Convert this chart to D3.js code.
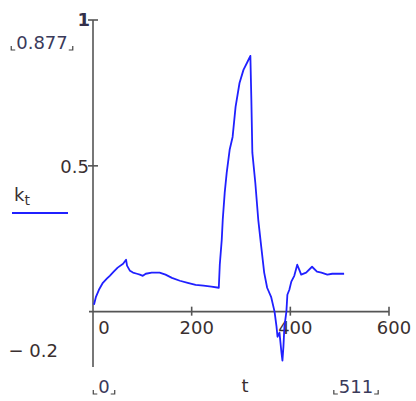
<!DOCTYPE html>
<html>
<head>
<meta charset="utf-8">
<script src="https://cdn.jsdelivr.net/npm/d3@7/dist/d3.min.js"></script>
<style>
  html, body { margin: 0; padding: 0; background: #fff; }
  svg text { font-family: "DejaVu Sans", Verdana, sans-serif; font-size: 18px; fill: #3a3030; }
</style>
</head>
<body>
<svg id="chart" width="416" height="401"></svg>
<script>
// values
var tValues = [2, 6, 12, 20, 28, 34, 42, 50, 61, 67, 69, 75, 81, 89, 95, 101, 107, 119, 135, 147,
    160, 176, 192, 208, 224, 240, 255, 257, 261, 263, 267, 271, 277, 283, 289, 297, 305, 313, 319,
    321, 323, 329, 335, 341, 347, 353, 361, 368, 372, 374, 378, 382, 384, 386, 388, 392, 394, 398,
    402, 408, 414, 418, 422, 432, 444, 454, 463, 475, 485, 509];
var kValues = [0.024, 0.051, 0.075, 0.099, 0.113, 0.123, 0.137, 0.151, 0.164, 0.178, 0.158, 0.140,
    0.134, 0.130, 0.127, 0.123, 0.130, 0.134, 0.134, 0.127, 0.116, 0.106, 0.099, 0.092, 0.089,
    0.086, 0.082, 0.161, 0.247, 0.315, 0.408, 0.476, 0.555, 0.599, 0.702, 0.784, 0.829, 0.856,
    0.877, 0.726, 0.545, 0.442, 0.315, 0.223, 0.134, 0.082, 0.051, 0.0, -0.051, -0.086, -0.072,
    -0.140, -0.168, -0.120, -0.051, 0.0, 0.058, 0.075, 0.103, 0.123, 0.161, 0.144, 0.127, 0.134,
    0.154, 0.137, 0.134, 0.127, 0.130, 0.130];
var xTicks = [0, 200, 400, 600];
var yTickMarks = [1, 0.5];
var yLimits = ["1", "0.5", "\u2212 0.2"];
var rangeLabels = {yMax: "0.877", xMin: "0", xMax: "511"};

var svg = d3.select("svg#chart");

var x = d3.scaleLinear()
    .domain([0, 600])
    .range([93, 389]);

var y = d3.scaleLinear()
    .domain([-0.2, 1])
    .range([370, 20]);

var axisColor = "#555";

// axes
svg.append("line")
    .attr("x1", x(0) - 4).attr("x2", x(600))
    .attr("y1", y(0)).attr("y2", y(0))
    .style("stroke", axisColor).style("stroke-width", 1.6);

svg.append("line")
    .attr("x1", x(0)).attr("x2", x(0))
    .attr("y1", y(1)).attr("y2", y(-0.2) - 3)
    .style("stroke", axisColor).style("stroke-width", 1.6);

svg.selectAll("line.xtick")
    .data(xTicks.slice(1))
    .enter()
    .append("line")
        .attr("class", "xtick")
        .attr("x1", function(d) { return x(d); })
        .attr("x2", function(d) { return x(d); })
        .attr("y1", y(0) - 5)
        .attr("y2", y(0) + 4)
        .style("stroke", axisColor).style("stroke-width", 1.6);

svg.selectAll("line.ytick")
    .data(yTickMarks)
    .enter()
    .append("line")
        .attr("class", "ytick")
        .attr("x1", x(0) - 5)
        .attr("x2", x(0) + 5)
        .attr("y1", function(d) { return y(d); })
        .attr("y2", function(d) { return y(d); })
        .style("stroke", axisColor).style("stroke-width", 1.6);

svg.selectAll("text.xlabel")
    .data(xTicks)
    .enter()
    .append("text")
        .attr("class", "xlabel")
        .attr("x", function(d) { return x(d) + (d === 0 ? 11 : 5); })
        .attr("y", y(0) + 22)
        .attr("text-anchor", "middle")
        .text(function(d) { return d; });

// y limit labels
svg.append("text")
    .attr("x", x(0) - 3).attr("y", y(1) + 6)
    .attr("text-anchor", "end")
    .style("font-weight", "bold").style("fill", "#33304a")
    .text(yLimits[0]);

svg.append("text")
    .attr("x", x(0) - 4).attr("y", y(0.5) + 7)
    .attr("text-anchor", "end")
    .text(yLimits[1]);

svg.append("text")
    .attr("x", 58).attr("y", y(-0.2) - 13)
    .attr("text-anchor", "end")
    .text(yLimits[2]);

// curve
var line = d3.line()
    .x(function(d) { return x(d[0]); })
    .y(function(d) { return y(d[1]); });

svg.append("path")
    .datum(d3.zip(tValues, kValues))
    .attr("d", line)
    .style("fill", "none")
    .style("stroke", "#2020ff")
    .style("stroke-width", 1.8)
    .style("stroke-linejoin", "round");

// legend
var kt = svg.append("text").attr("x", 14).attr("y", 201);
kt.append("tspan").text("k");
kt.append("tspan").attr("dy", 4).style("font-size", "14px").text("t");

svg.append("line")
    .attr("x1", 12).attr("x2", 68)
    .attr("y1", 213).attr("y2", 213)
    .style("stroke", "#2020ff").style("stroke-width", 1.8);

// range placeholders (Mathcad style)
function bracketed(label, cx, cy) {
    var t = svg.append("text")
        .attr("x", cx).attr("y", cy)
        .attr("text-anchor", "middle")
        .style("fill", "#3a3a5a")
        .text(label);
    var w = t.node().getComputedTextLength() / 2 + 5;
    svg.append("path")
        .attr("d", "M" + (cx - w) + "," + (cy - 3) + "v4h4M" + (cx + w) + "," + (cy - 3) + "v4h-4")
        .style("fill", "none").style("stroke", "#444").style("stroke-width", 1.2);
}

bracketed(rangeLabels.yMax, 42, 49);
bracketed(rangeLabels.xMin, 104, 393);
bracketed(rangeLabels.xMax, 356, 393);

svg.append("text")
    .attr("x", 245).attr("y", 392)
    .attr("text-anchor", "middle")
    .text("t");
</script>
</body>
</html>
